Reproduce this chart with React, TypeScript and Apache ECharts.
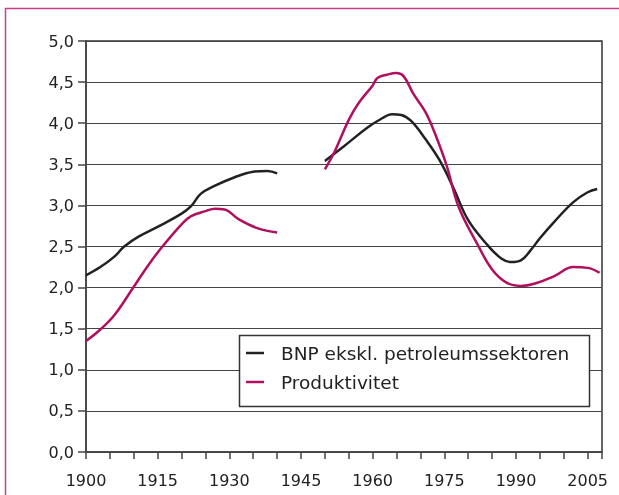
import React, { useEffect, useRef } from "react";
import * as echarts from "echarts";

const bnpYears = [1900, 1903, 1906, 1908, 1911, 1916, 1920, 1922, 1924, 1927, 1931, 1935, 1938, 1940, 1945, 1950, 1954, 1959, 1962, 1964, 1966, 1968, 1971, 1974, 1977, 1980, 1984, 1987, 1989, 1991, 1993, 1995, 1998, 2002, 2005, 2007];
const bnpValues: (number | null)[] = [2.15, 2.25, 2.38, 2.5, 2.62, 2.77, 2.9, 2.99, 3.14, 3.24, 3.34, 3.41, 3.42, 3.39, null, 3.54, 3.72, 3.95, 4.06, 4.11, 4.1, 4.03, 3.81, 3.55, 3.2, 2.82, 2.52, 2.35, 2.31, 2.33, 2.45, 2.6, 2.8, 3.04, 3.16, 3.2];

const prodYears = [1900, 1903, 1906, 1910, 1913, 1916, 1920, 1922, 1925, 1927, 1929, 1932, 1936, 1940, 1945, 1950, 1952, 1955, 1957, 1960, 1961, 1963, 1965, 1966.5, 1968.5, 1971, 1973, 1975.5, 1978, 1982, 1985, 1988, 1991, 1994, 1998, 2002, 2005, 2007.5];
const prodValues: (number | null)[] = [1.35, 1.49, 1.67, 2.01, 2.27, 2.5, 2.77, 2.87, 2.93, 2.96, 2.95, 2.83, 2.72, 2.67, null, 3.44, 3.65, 4.04, 4.24, 4.46, 4.55, 4.59, 4.61, 4.57, 4.36, 4.14, 3.88, 3.48, 2.98, 2.52, 2.22, 2.06, 2.02, 2.05, 2.14, 2.25, 2.24, 2.18];

const seriesNames = ["BNP ekskl. petroleumssektoren", "Produktivitet"];
const seriesColors = ["#222222", "#b0105e"];

export default function App() {
  const ref = useRef<HTMLDivElement>(null);
  useEffect(() => {
    if (!ref.current) return;
    const chart = echarts.init(ref.current, undefined, { renderer: "svg" });
    const font = "'DejaVu Sans', 'Noto Sans', sans-serif";
    const mk = (ys: number[], vs: (number | null)[]) => ys.map((y, i) => [y, vs[i]]);
    chart.setOption({
      animation: false,
      grid: { left: 86, right: 17, top: 41, bottom: 43, show: true, borderColor: "#333", borderWidth: 1.5, backgroundColor: "transparent" },
      graphic: [
        { type: "rect", z: 0, shape: { x: 5.5, y: 8.5, width: 700, height: 600 }, style: { fill: "none", stroke: "#cc3d86", lineWidth: 1.5 } },
        { type: "rect", z: 3, shape: { x: 239.5, y: 335.5, width: 350, height: 71 }, style: { fill: "#fff", stroke: "#333", lineWidth: 1.5 } },
      ],
      legend: {
        orient: "vertical",
        left: 246,
        top: 343,
        z: 5,
        itemWidth: 18,
        itemHeight: 2.5,
        itemGap: 9,
        icon: "rect",
        padding: 0,
        textStyle: { fontFamily: font, fontSize: 18.5, color: "#222", lineHeight: 20, padding: [0, 0, 0, 12] },
        data: seriesNames,
      },
      xAxis: {
        type: "value",
        min: 1900,
        max: 2008,
        interval: 5,
        axisLine: { show: true, lineStyle: { color: "#444", width: 1.5 } },
        axisTick: { show: true, length: 7, lineStyle: { color: "#444", width: 1.5 } },
        splitLine: { show: false },
        axisLabel: {
          margin: 20,
          fontFamily: font,
          fontSize: 16,
          color: "#222",
          formatter: (v: number) => ((v - 1900) % 15 === 0 && v <= 2005 ? String(v) : ""),
        },
      },
      yAxis: {
        type: "value",
        min: 0,
        max: 5,
        interval: 0.5,
        axisLine: { show: true, lineStyle: { color: "#444", width: 1.5 } },
        axisTick: { show: true, length: 8, lineStyle: { color: "#444", width: 1.5 } },
        splitLine: { show: true, lineStyle: { color: "#444", width: 1 } },
        axisLabel: {
          margin: 12,
          fontFamily: font,
          fontSize: 16,
          color: "#222",
          formatter: (v: number) => v.toFixed(1).replace(".", ","),
        },
      },
      series: [
        {
          name: seriesNames[0],
          type: "line",
          data: mk(bnpYears, bnpValues),
          smooth: 0.4,
          showSymbol: false,
          connectNulls: false,
          lineStyle: { color: seriesColors[0], width: 2.5 },
          itemStyle: { color: seriesColors[0] },
        },
        {
          name: seriesNames[1],
          type: "line",
          data: mk(prodYears, prodValues),
          smooth: 0.4,
          showSymbol: false,
          connectNulls: false,
          lineStyle: { color: seriesColors[1], width: 2.5 },
          itemStyle: { color: seriesColors[1] },
        },
      ],
    });
    return () => chart.dispose();
  }, []);
  return <div ref={ref} style={{ position: "fixed", left: 0, top: 0, width: 619, height: 495 }} />;
}
